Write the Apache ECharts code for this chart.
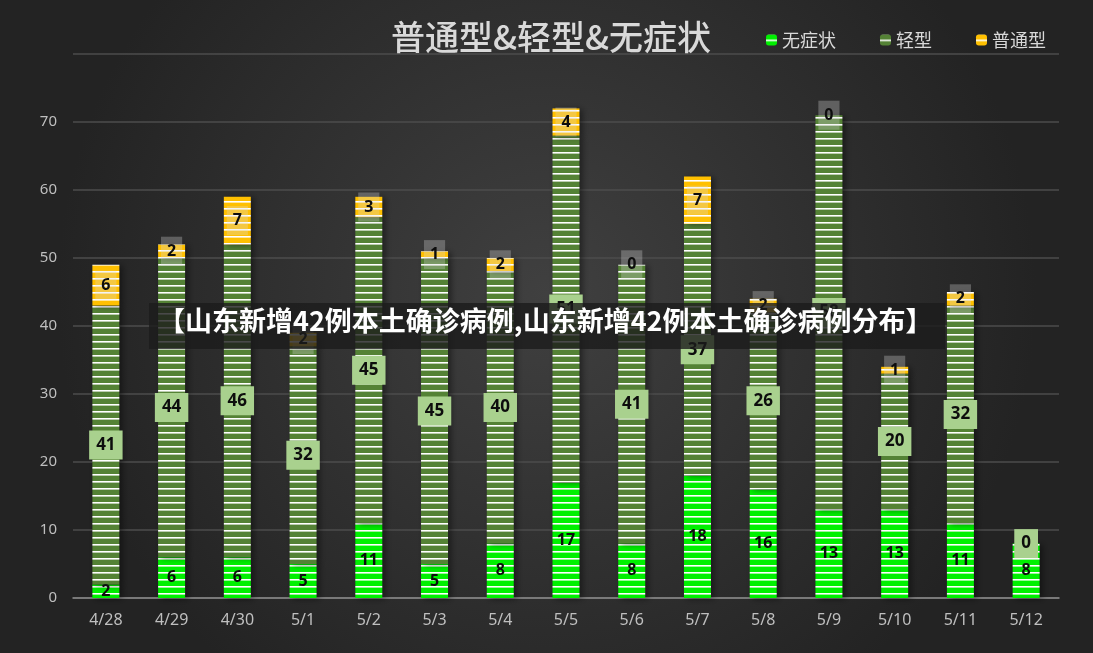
<!DOCTYPE html>
<html>
<head>
<meta charset="utf-8">
<script src="https://cdn.jsdelivr.net/npm/echarts@6/dist/echarts.min.js"></script>
<style>
  html, body { margin: 0; padding: 0; background: #2b2b2b; }
  #chart { width: 1093px; height: 653px; }
</style>
</head>
<body>
<div id="chart"></div>
<script>
// 日期
var dates = ['4/28', '4/29', '4/30', '5/1', '5/2', '5/3', '5/4', '5/5', '5/6', '5/7', '5/8', '5/9', '5/10', '5/11', '5/12'];
// 无症状
var wuzhengzhuang = [2, 6, 6, 5, 11, 5, 8, 17, 8, 18, 16, 13, 13, 11, 8];
// 轻型
var qingxing = [41, 44, 46, 32, 45, 45, 40, 51, 41, 37, 26, 58, 20, 32, 0];
// 普通型
var putongxing = [6, 2, 7, 2, 3, 1, 2, 4, 0, 7, 2, 0, 1, 2, 0];
var yTicks = [0, 10, 20, 30, 40, 50, 60, 70, 80];

// 条纹填充
function stripe(color) {
    var c = document.createElement('canvas');
    c.width = 4;
    c.height = 7;
    var ctx = c.getContext('2d');
    ctx.fillStyle = color;
    ctx.fillRect(0, 0, 4, 7);
    ctx.fillStyle = '#ffffff';
    ctx.fillRect(0, 5, 4, 1.6);
    return { image: c, repeat: 'repeat' };
}

var myChart = echarts.init(document.getElementById('chart'));

var labelBase = {
    show: true,
    position: 'inside',
    color: '#0d0d0d',
    fontSize: 16,
    fontWeight: 'bold',
    fontFamily: 'Noto Sans'
};

// 轻型也是0的那天不显示普通型标签(被绿框盖住)
var putongData = putongxing.map(function (v, i) {
    if (v === 0 && qingxing[i] === 0) return { value: v, label: { show: false } };
    return v;
});

var barShadow = { shadowColor: 'rgba(0,0,0,0.45)', shadowBlur: 6, shadowOffsetX: 3, shadowOffsetY: 1 };

var option = {
    backgroundColor: {
        type: 'radial', x: 0.5, y: 0.45, r: 0.75,
        colorStops: [{ offset: 0, color: '#404040' }, { offset: 1, color: '#232323' }]
    },
    title: {
        text: '普通型&轻型&无症状',
        left: 546, top: 15,
        textAlign: 'center',
        textStyle: { color: '#d9d9d9', fontSize: 34, fontWeight: 500, fontFamily: 'Noto Sans CJK SC' }
    },
    legend: {
        left: 761, top: 26,
        itemWidth: 11, itemHeight: 11, itemGap: 44,
        textStyle: { color: '#d9d9d9', fontSize: 18, fontFamily: 'Noto Sans CJK SC' },
        data: ['无症状', '轻型', '普通型']
    },
    grid: { left: 73, right: 34, top: 54, bottom: 55 },
    xAxis: {
        type: 'category',
        data: dates,
        axisLine: { lineStyle: { color: '#8c8c8c', width: 1.5 } },
        axisTick: { show: false },
        axisLabel: { color: '#bfbfbf', fontSize: 16, margin: 14, fontFamily: 'Noto Sans' }
    },
    yAxis: {
        type: 'value',
        min: yTicks[0], max: yTicks[yTicks.length - 1], interval: 10,
        axisLine: { show: false },
        axisTick: { show: false },
        splitLine: { lineStyle: { color: '#4c4c4c', width: 1.5 } },
        axisLabel: {
            color: '#bfbfbf', fontSize: 15, margin: 16, fontFamily: 'Noto Sans',
            formatter: function (v) { return v === 80 ? '' : v; }
        }
    },
    series: [
        {
            name: '无症状', type: 'bar', stack: 'total', barWidth: 27,
            data: wuzhengzhuang,
            itemStyle: Object.assign({ color: stripe('#00f000') }, barShadow),
            label: labelBase
        },
        {
            name: '轻型', type: 'bar', stack: 'total',
            data: qingxing,
            itemStyle: Object.assign({ color: stripe('#548235') }, barShadow),
            label: Object.assign({}, labelBase, {
                fontSize: 17, backgroundColor: '#a9d18e', padding: [7, 7, 5, 7]
            })
        },
        {
            name: '普通型', type: 'bar', stack: 'total',
            data: putongData,
            itemStyle: Object.assign({ color: stripe('#ffc000') }, barShadow),
            label: Object.assign({}, labelBase, {
                backgroundColor: 'rgba(220,220,220,0.3)', padding: [7, 6, 6, 6]
            })
        }
    ],
    graphic: [
        {
            type: 'rect', left: 149, top: 303, z: 1000, zlevel: 1,
            shape: { width: 796, height: 46 },
            style: { fill: 'rgba(28,28,28,0.8)' }
        },
        {
            type: 'text', left: 158, top: 307, z: 1001, zlevel: 1,
            style: {
                text: '【山东新增42例本土确诊病例,山东新增42例本土确诊病例分布】',
                fill: '#ffffff', fontSize: 27, fontWeight: 'bold',
                fontFamily: 'Noto Sans CJK SC'
            }
        }
    ]
};

option && myChart.setOption(option);
</script>
</body>
</html>
